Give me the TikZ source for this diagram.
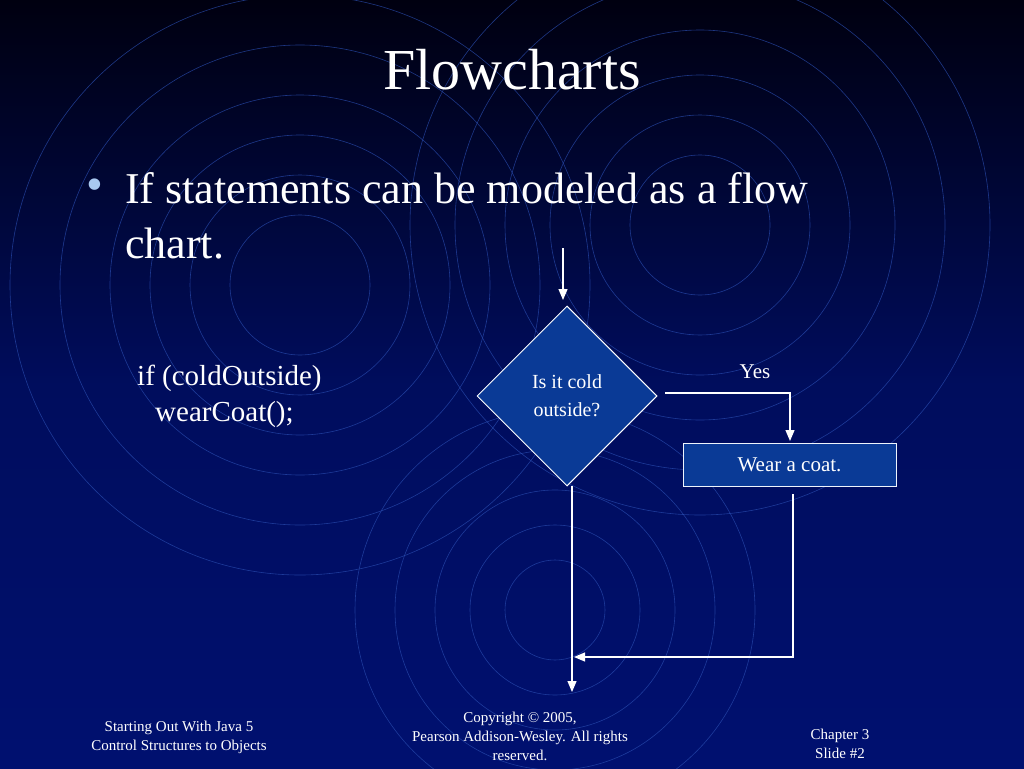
\documentclass[tikz,border=0pt]{standalone}
\usepackage{fontspec}
\setmainfont{Liberation Serif}
\usetikzlibrary{shapes.geometric,arrows.meta}
\definecolor{bgtop}{HTML}{000010}
\definecolor{bgbot}{HTML}{001070}
\definecolor{ring}{HTML}{2a4db0}
\definecolor{shapefill}{HTML}{0A3A96}
\definecolor{bullet}{HTML}{A8C8F0}
\tikzset{
  ringline/.style={draw=ring, line width=0.6pt, opacity=0.7},
  flowline/.style={draw=white, line width=1.2pt},
  flowarrow/.style={flowline, -{Triangle[width=9pt,length=11pt]}},
  txt/.style={text=white, inner sep=0pt},
}
\begin{document}
\begin{tikzpicture}[x=1pt,y=-1pt]
\useasboundingbox (0,0) rectangle (1024,768);
\shade[top color=bgtop, bottom color=bgbot, middle color=bgbot!80!bgtop] (0,0) rectangle (1024,768);
\begin{scope}
\clip (0,0) rectangle (1024,768);
\foreach \r in {70,110,150,190,240,290} \draw[ringline] (300,285) circle (\r);
\foreach \r in {70,110,150,195,245,290} \draw[ringline] (700,225) circle (\r);
\foreach \r in {50,85,120,160,200} \draw[ringline] (555,610) circle (\r);
\end{scope}
\node[txt, font=\fontsize{58}{62}\selectfont] (title) at (512,70) {Flowcharts};
\node[txt, text=bullet, font=\fontsize{48}{50}\selectfont] (bul) at (95,190) {•};
\node[txt, anchor=west, align=left, font=\fontsize{44}{55}\selectfont] (body) at (125,216) {If statements can be modeled as a flow\\chart.};
\node[txt, anchor=west, align=left, font=\fontsize{29}{36}\selectfont] (code) at (137,396) {if (coldOutside)\\\hspace*{18pt}wearCoat();};
\node[diamond, draw=white, line width=1pt, fill=shapefill, minimum width=180pt, minimum height=180pt, inner sep=0pt, text=white, align=center, font=\fontsize{20}{28}\selectfont] (dec) at (567,396) {Is it cold\\outside?};
\node[rectangle, draw=white!80!bullet, line width=1pt, fill=shapefill, minimum width=213pt, minimum height=43pt, text=white, font=\fontsize{21}{24}\selectfont] (coat) at (789.5,465) {Wear a coat.};
\node[txt, font=\fontsize{21}{24}\selectfont] (yes) at (755,372) {Yes};
\coordinate (start) at (563,248);
\coordinate (end) at (572,692);
\coordinate (join) at (572,657);
\draw[flowarrow] (start) -- (563,300);
\draw[flowarrow] (665,393) -- (790,393) -- (790,441);
\draw[flowline] (572,486) -- (join);
\draw[flowarrow] (join) -- (end);
\draw[flowarrow] (793,494) -- (793,657) -- (574,657);
\node[txt, align=center, font=\fontsize{15}{19}\selectfont] (f1) at (179,737) {Starting Out With Java 5\\Control Structures to Objects};
\node[txt, align=center, font=\fontsize{15}{19}\selectfont] (f2) at (520,736) {Copyright © 2005,\\Pearson Addison-Wesley. All rights\\reserved.};
\node[txt, align=center, font=\fontsize{15}{19}\selectfont] (f3) at (840,744) {Chapter 3\\Slide \#2};
\end{tikzpicture}
\end{document}
